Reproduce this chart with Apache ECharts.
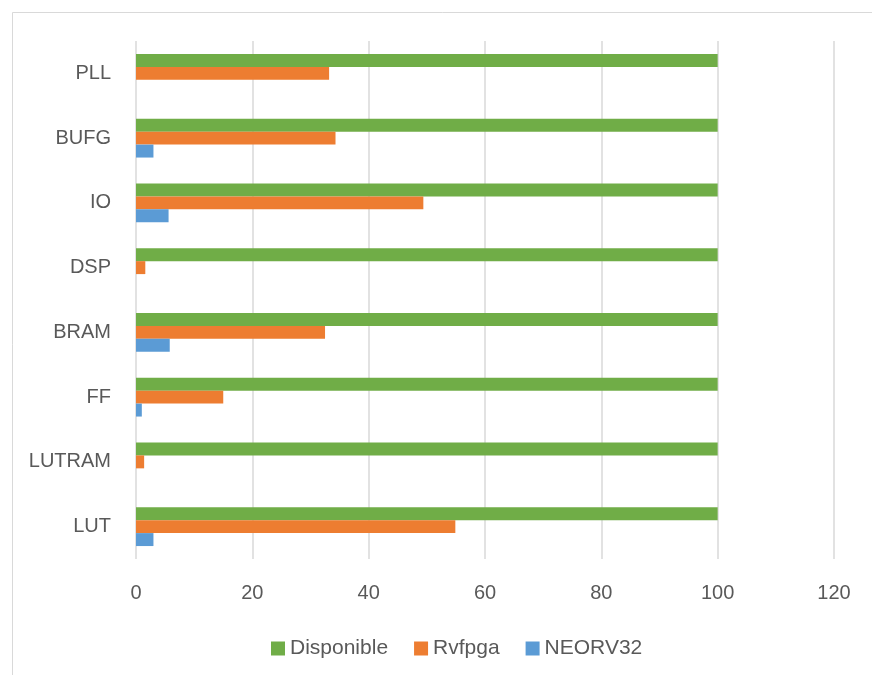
<!DOCTYPE html>
<html>
<head>
<meta charset="utf-8">
<script src="https://cdn.jsdelivr.net/npm/echarts@6/dist/echarts.min.js"></script>
<style>html,body{margin:0;padding:0;background:#fff;}#c{width:872px;height:675px;}</style>
</head>
<body>
<div id="c"></div>
<script>
const categories = ['LUT', 'LUTRAM', 'FF', 'BRAM', 'DSP', 'IO', 'BUFG', 'PLL'];
const disponible = [100, 100, 100, 100, 100, 100, 100, 100];
const rvfpga = [54.9, 1.4, 15.0, 32.5, 1.6, 49.4, 34.3, 33.2];
const neorv32 = [3.0, 0, 1.0, 5.8, 0, 5.6, 3.0, 0];
const xTicks = { min: 0, max: 120, interval: 20 };

const font = 'Liberation Sans';
const chart = echarts.init(document.getElementById('c'), null, { renderer: 'canvas' });
chart.setOption({
  animation: false,
  backgroundColor: '#fff',
  textStyle: { fontFamily: font },
  graphic: [{
    type: 'rect', left: 10, top: 10, silent: true,
    shape: { width: 900, height: 700 },
    style: { fill: 'none', stroke: '#d9d9d9', lineWidth: 1 }
  }],
  grid: { left: 136, right: 38, top: 41, bottom: 116, containLabel: false },
  legend: {
    top: 633, left: 266,
    itemWidth: 14, itemHeight: 14, itemGap: 26,
    icon: 'rect',
    textStyle: { fontFamily: font, fontSize: 21, color: '#595959' },
    data: ['Disponible', 'Rvfpga', 'NEORV32']
  },
  xAxis: {
    type: 'value', min: xTicks.min, max: xTicks.max, interval: xTicks.interval,
    axisLine: { show: false }, axisTick: { show: false },
    splitLine: { lineStyle: { color: '#d9d9d9', width: 1.5 } },
    axisLabel: { fontFamily: font, fontSize: 20, color: '#595959', margin: 24 }
  },
  yAxis: {
    type: 'category', data: categories,
    axisLine: { show: false }, axisTick: { show: false },
    axisLabel: { fontFamily: font, fontSize: 20, color: '#595959', margin: 25 }
  },
  series: [
    { name: 'Disponible', type: 'bar', data: disponible, barGap: '0%', barCategoryGap: '40%',
      itemStyle: { color: '#70AD47' } },
    { name: 'Rvfpga', type: 'bar', data: rvfpga, barGap: '0%', barCategoryGap: '40%',
      itemStyle: { color: '#ED7D31' } },
    { name: 'NEORV32', type: 'bar', data: neorv32, barGap: '0%', barCategoryGap: '40%',
      itemStyle: { color: '#5B9BD5' } }
  ]
});
</script>
</body>
</html>
